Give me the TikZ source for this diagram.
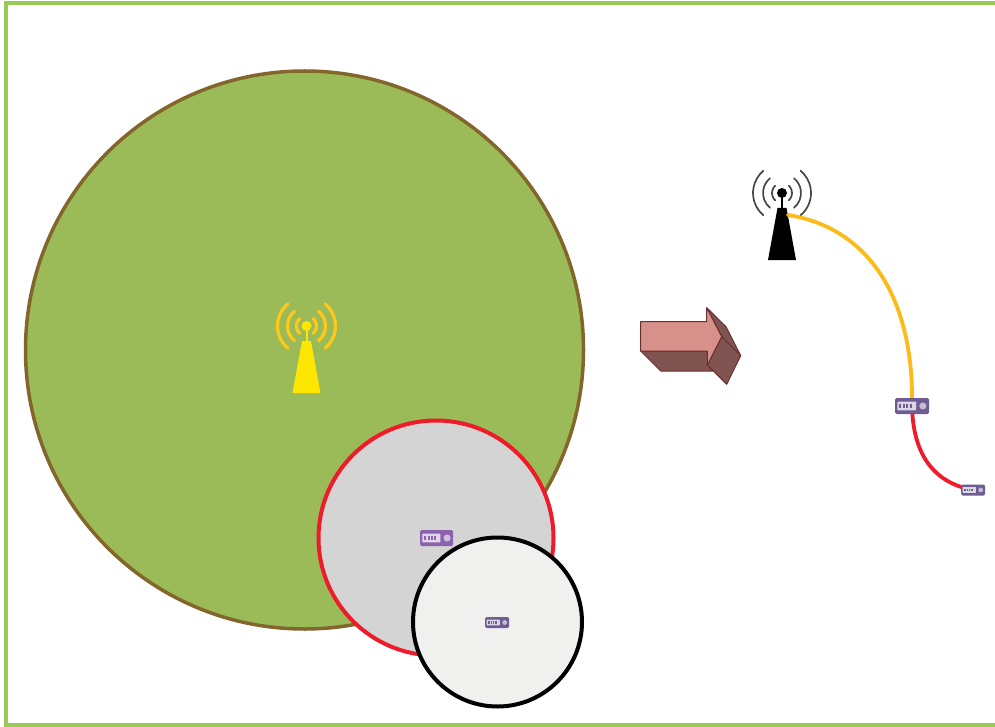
\documentclass[tikz,border=0pt]{standalone}
\usetikzlibrary{calc}
\definecolor{frame}{HTML}{97CB56}
\definecolor{biggreen}{HTML}{9BBB59}
\definecolor{bigedge}{HTML}{83662C}
\definecolor{midfill}{HTML}{D4D4D4}
\definecolor{linkred}{HTML}{EE1C2A}
\definecolor{smallfill}{HTML}{F0F0EF}
\definecolor{towery}{HTML}{FFE600}
\definecolor{arcy}{HTML}{FFC91A}
\definecolor{linky}{HTML}{FDBB1A}
\definecolor{arrowf}{HTML}{D8918A}
\definecolor{arrowd}{HTML}{7F5451}
\definecolor{arrowe}{HTML}{6B2F2F}
\definecolor{routera}{HTML}{8B62AE}
\definecolor{routerb}{HTML}{6F5C92}
\tikzset{
  x=1pt,y=-1pt,
  routerbox/.style={draw=none,fill=#1,rounded corners=1.5pt,inner sep=0pt,outer sep=0pt},
  link/.style={line width=3.8pt,line cap=round},
}
% \towerpic{x}{y of head}{body}{arcs}{arc width}
\newcommand{\towerpic}[5]{%
  \begin{scope}[shift={(#1,#2)}]
    \fill[#3] (-4.5,15) -- (4.5,15) -- (14,67) -- (-14,67) -- cycle;
    \draw[#3,line width=2pt] (0,0) -- (0,16);
    \fill[#3] (0,0) circle[radius=5];
    \foreach \r/\a in {10/47,19/51,29/50}{
      \draw[#4,line width=#5,line cap=round] (\a:\r) arc[start angle=\a,end angle=-\a,radius=\r];
      \draw[#4,line width=#5,line cap=round] (180-\a:\r) arc[start angle=180-\a,end angle=180+\a,radius=\r];
    }
  \end{scope}}
% \routerpic{node}{x}{y}{w}{h}{colour}
\newcommand{\routerpic}[6]{%
  \node[routerbox=#6,minimum width=#4,minimum height=#5] (#1) at (#2,#3) {};
  \fill[white,opacity=.75,rounded corners=.5pt] ($(#1.west)+(0.07*#4,-0.27*#5)$) rectangle ($(#1.west)+(0.62*#4,0.27*#5)$);
  \foreach \k in {0.13,0.23,0.33,0.43}{\fill[#6] ($(#1.west)+(\k*#4,-0.1*#5)$) rectangle ($(#1.west)+(\k*#4+0.06*#4,0.1*#5)$);}
  \fill[white,opacity=.6] ($(#1.west)+(0.82*#4,0)$) circle[radius=0.22*#5];
}
\begin{document}
\begin{tikzpicture}
\useasboundingbox (0,0) rectangle (995,727);
\draw[frame,line width=4pt] (1000,3) -- (6,3) -- (6,725) -- (1000,725);
\node[circle,draw=bigedge,fill=biggreen,line width=3.5pt,minimum size=558pt,inner sep=0pt] (cellbig) at (304.5,350) {};
\node[circle,draw=linkred,fill=midfill,line width=4pt,minimum size=235pt,inner sep=0pt] (cellmid) at (436,538) {};
\node[circle,draw=black,fill=smallfill,line width=4pt,minimum size=169pt,inner sep=0pt] (cellsmall) at (497.5,622) {};
\towerpic{306.5}{326}{towery}{arcy}{3.2pt}
\towerpic{782}{193}{black}{black!72}{1.7pt}
\coordinate (towerfoot) at (788,215);
\node[inner sep=0pt,minimum size=0pt] (routerthreepos) at (912,406) {};
\draw[linky,link] (towerfoot) .. controls (870,228) and (914,300) .. (routerthreepos);
\draw[linkred,link] (routerthreepos) .. controls (913,450) and (930,482) .. (973,490);
\routerpic{routerone}{436.5}{538}{33pt}{16pt}{routera}
\routerpic{routertwo}{497}{622.5}{24pt}{11pt}{routerb}
\routerpic{routerthree}{912}{406}{34pt}{16pt}{routerb}
\routerpic{routerfour}{973}{490}{24pt}{11pt}{routerb}
% 3D arrow
\begin{scope}[draw=arrowe,line width=1pt,line join=round]
  \filldraw[fill=arrowd] (640.7,351) -- (660.7,371) -- (712.7,371) -- (707.3,351) -- cycle;
  \filldraw[fill=arrowd] (706.7,307.7) -- (726,326.7) -- (740.7,355.7) -- (721.7,336.7) -- cycle;
  \filldraw[fill=arrowd] (721.7,336.7) -- (740.7,355.7) -- (726.7,384.3) -- (707.3,365) -- cycle;
  \filldraw[fill=arrowf] (640.7,321.7) -- (706.7,321.7) -- (706.7,307.7) -- (721.7,336.7) -- (707.3,365) -- (707.3,351) -- (640.7,351) -- cycle;
\end{scope}
\end{tikzpicture}
\end{document}
